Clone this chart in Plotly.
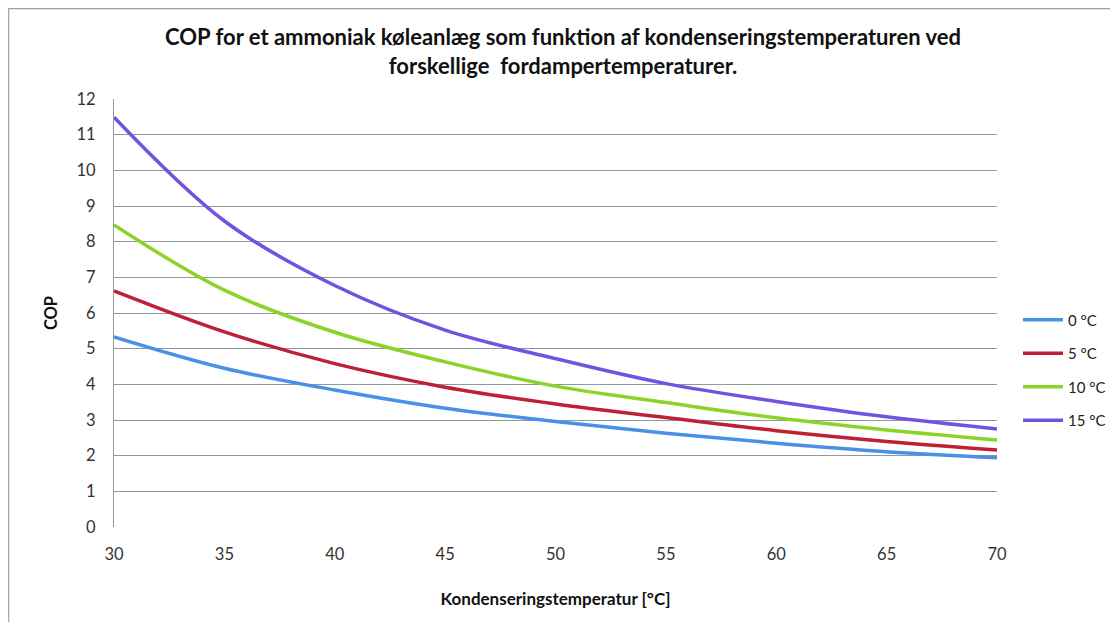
import plotly.graph_objects as go

temps = [30, 35, 40, 45, 50, 55, 60, 65, 70]
series_names = ["0 °C", "5 °C", "10 °C", "15 °C"]
cop_0 = [5.33, 4.45, 3.84, 3.33, 2.96, 2.63, 2.35, 2.11, 1.94]
cop_5 = [6.62, 5.47, 4.58, 3.92, 3.45, 3.07, 2.70, 2.40, 2.16]
cop_10 = [8.47, 6.64, 5.46, 4.63, 3.95, 3.49, 3.06, 2.72, 2.44]
cop_15 = [11.49, 8.58, 6.77, 5.52, 4.72, 4.02, 3.52, 3.09, 2.75]
colors = ["#4A90E6", "#BE2036", "#8CD228", "#7352DF"]

y_ticks = list(range(0, 13))
x_ticks = [30, 35, 40, 45, 50, 55, 60, 65, 70]

FONT = "Lato, 'Open Sans', sans-serif"
GRID = "#8E9B9B"

fig = go.Figure()
for name, vals, col in zip(series_names, [cop_0, cop_5, cop_10, cop_15], colors):
    fig.add_trace(go.Scatter(
        x=temps, y=vals, name=name, mode="lines",
        line=dict(color=col, width=3.5, shape="spline", smoothing=1.0),
        legendgroup=name,
    ))

# page has an 8px body margin, so figure coords = page coords - 8
OFF = 8
W, H = 1118 - OFF, 622 - OFF
L, T = 114 - OFF, 99 - OFF
R = W - (997 - OFF)
B = H - (527 - OFF)
pw, ph = W - L - R, H - T - B

fig.update_layout(
    width=W, height=H,
    margin=dict(l=L, r=R, t=T, b=B, pad=0, autoexpand=False),
    paper_bgcolor="white", plot_bgcolor="white",
    font=dict(family=FONT, color="#222222"),
    title=dict(
        text="COP for et ammoniak køleanlæg som funktion af kondenseringstemperaturen ved<br>forskellige&nbsp; fordampertemperaturer.",
        x=(563 - OFF) / W, xanchor="center", y=1 - (45 - OFF) / H, yanchor="middle",
        font=dict(family=FONT, size=22, color="#111111", weight="bold"),
    ),
    xaxis=dict(
        range=[30, 70], tickvals=x_ticks, showgrid=False, zeroline=False,
        showline=False, ticks="", ticklabelstandoff=15,
        tickfont=dict(size=16.5, color="#333333"),
        title=dict(text="Kondenseringstemperatur [°C]", standoff=30,
                   font=dict(size=17, color="#111111", weight="bold")),
    ),
    yaxis=dict(
        range=[0, 12], tickvals=y_ticks, showgrid=True, gridcolor=GRID, gridwidth=1.2,
        zeroline=False, showline=True, linecolor=GRID, linewidth=1.2,
        ticks="", ticklabelstandoff=14,
        tickfont=dict(size=16.5, color="#333333"),
        title=dict(text="COP", standoff=14,
                   font=dict(size=16.5, color="#111111", weight="bold")),
    ),
    legend=dict(
        x=(1018 - OFF - L) / pw, xanchor="left", y=(527 - 370) / ph, yanchor="middle",
        font=dict(size=15, color="#222222"), tracegroupgap=11,
        traceorder="grouped", itemwidth=40, bgcolor="rgba(0,0,0,0)",
    ),
    showlegend=True,
)

# outer chart border (left and top visible, rest runs off the page)
fig.add_shape(type="rect", xref="paper", yref="paper",
              x0=(8.7 - 114) / pw, x1=(1118 + 30 - 114) / pw,
              y0=-(B + 30) / ph, y1=1 + (99 - 8.7) / ph,
              line=dict(color="#9AA3A3", width=1.2), layer="below")

fig.write_html("out.html")
